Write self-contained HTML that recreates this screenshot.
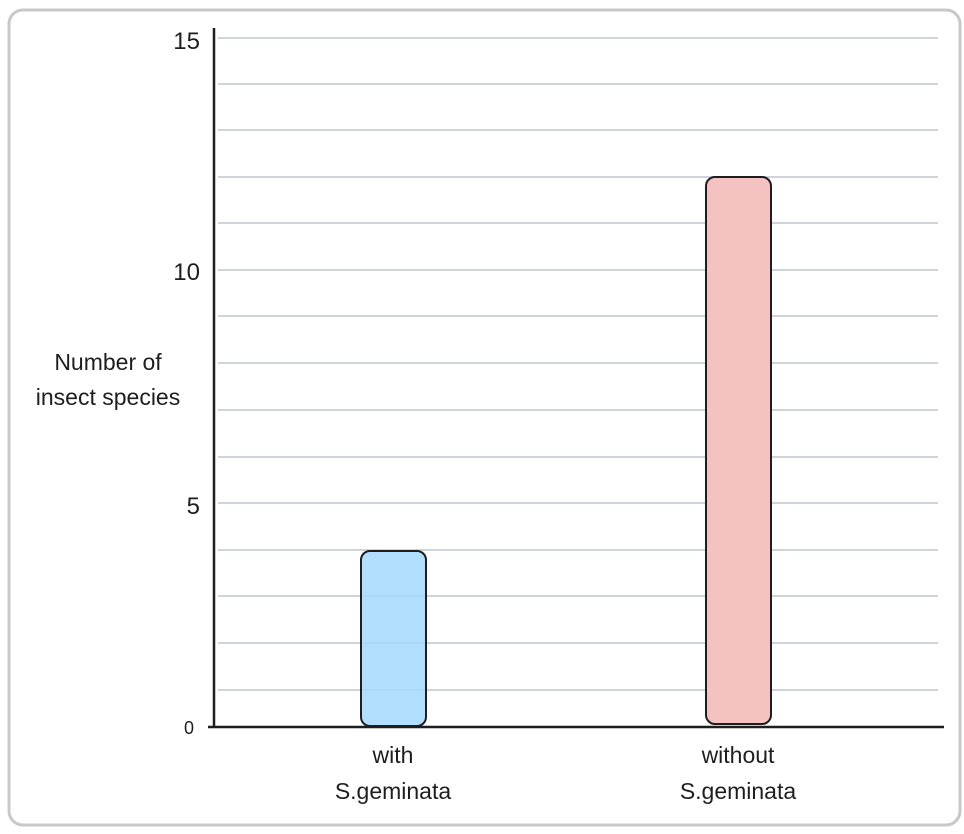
<!DOCTYPE html>
<html><head><meta charset="utf-8"><style>
body{margin:0;background:#fff;}
svg{display:block;}
text{font-family:"Liberation Sans","DejaVu Sans",sans-serif;fill:#1e1e1e;}
</style></head><body>
<svg width="964" height="834" viewBox="0 0 964 834" xmlns="http://www.w3.org/2000/svg">
<rect x="9" y="10" width="951" height="815" rx="14" fill="#fff" stroke="#c8c8c8" stroke-width="3"/>
<g stroke="#ced4da" stroke-width="2">
<line x1="218" y1="38" x2="938" y2="38"/>
<line x1="218" y1="84" x2="938" y2="84"/>
<line x1="218" y1="130" x2="938" y2="130"/>
<line x1="218" y1="177" x2="938" y2="177"/>
<line x1="218" y1="223" x2="938" y2="223"/>
<line x1="218" y1="270" x2="938" y2="270"/>
<line x1="218" y1="316" x2="938" y2="316"/>
<line x1="218" y1="363" x2="938" y2="363"/>
<line x1="218" y1="410" x2="938" y2="410"/>
<line x1="218" y1="457" x2="938" y2="457"/>
<line x1="218" y1="503" x2="938" y2="503"/>
<line x1="218" y1="550" x2="938" y2="550"/>
<line x1="218" y1="596" x2="938" y2="596"/>
<line x1="218" y1="643" x2="938" y2="643"/>
<line x1="218" y1="690" x2="938" y2="690"/>
</g>
<rect x="361" y="551" width="65" height="175" rx="9" fill="#a5d8ff" fill-opacity="0.85" stroke="#1e1e1e" stroke-width="2"/>
<rect x="706" y="177" width="65" height="547" rx="9" fill="#f5c2c2" stroke="#1e1e1e" stroke-width="2"/>
<line x1="214" y1="28" x2="214" y2="727" stroke="#1e1e1e" stroke-width="2.5"/>
<line x1="208" y1="727" x2="944" y2="727" stroke="#1e1e1e" stroke-width="2.5"/>
<g font-size="24" text-anchor="end">
<text x="200" y="49">15</text>
<text x="200" y="280">10</text>
<text x="200" y="514">5</text>
<text x="194" y="734" font-size="18">0</text>
</g>
<g font-size="23" text-anchor="middle">
<text x="108" y="370">Number of</text>
<text x="108" y="405">insect species</text>
<text x="393" y="763">with</text>
<text x="393" y="799">S.geminata</text>
<text x="738" y="763">without</text>
<text x="738" y="799">S.geminata</text>
</g>
</svg>
</body></html>
